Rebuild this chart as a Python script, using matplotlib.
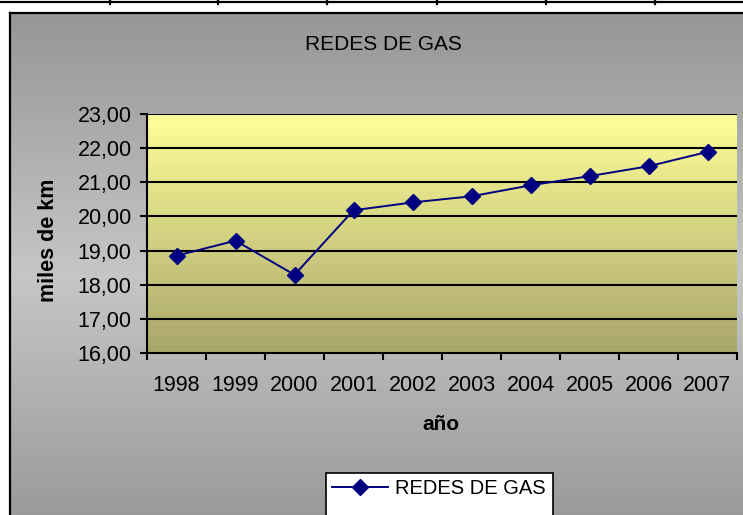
import numpy as np
import matplotlib
matplotlib.use("Agg")
import matplotlib.pyplot as plt
from matplotlib.colors import LinearSegmentedColormap
from matplotlib.patches import Rectangle
from matplotlib.ticker import FixedLocator, NullFormatter, FixedFormatter

plt.rcParams['font.family'] = ['Liberation Sans', 'DejaVu Sans']

# data
years = ['1998', '1999', '2000', '2001', '2002', '2003', '2004', '2005', '2006', '2007']
redes = [18.85, 19.29, 18.29, 20.18, 20.41, 20.59, 20.91, 21.18, 21.47, 21.89]
y_ticks = [16, 17, 18, 19, 20, 21, 22, 23]

W, H = 743, 515
fig = plt.figure(figsize=(W / 100, H / 100), dpi=100)
fig.patch.set_facecolor('white')

# background layer in pixel coordinates
bg = fig.add_axes([0, 0, 1, 1])
bg.set_xlim(0, W)
bg.set_ylim(H, 0)
bg.axis('off')

gray = LinearSegmentedColormap.from_list('g', ['#969696', '#c6c6c6', '#969696'])
grad = np.linspace(0, 1, 256).reshape(-1, 1)
bg.imshow(grad, cmap=gray, extent=[10, W + 5, 540, 13], aspect='auto', zorder=0)
bg.plot([10, 10], [13, H], color='black', lw=1.6, zorder=2)
bg.plot([10, W], [13, 13], color='black', lw=1.6, zorder=2)

# table lines above the chart
bg.plot([0, W], [1.5, 1.5], color='black', lw=1.6)
for xv in [110, 218, 327, 437, 546, 655]:
    bg.plot([xv, xv], [0, 4], color='black', lw=1.6)

bg.text(383, 45, 'REDES DE GAS', ha='center', va='center', fontsize=15)
bg.text(48, 240, 'miles de km', ha='center', va='center', rotation=90,
        fontsize=15.5, fontweight='bold')
bg.text(441, 424, 'año', ha='center', va='center', fontsize=15, fontweight='bold')

# legend box (cut off at the bottom like the original)
bg.add_patch(Rectangle((326, 473), 227, 60, facecolor='white', edgecolor='black',
                       lw=1.2, zorder=3))

# plot area
ax = fig.add_axes([147 / W, 1 - 353 / H, 590 / W, 239 / H])
ax.patch.set_alpha(0)
yel = LinearSegmentedColormap.from_list('y', ['#a9a66b', '#ffff99'])
ax.imshow(grad[::-1], cmap=yel, extent=[-0.5, 9.5, 16, 23], aspect='auto', zorder=0)
x = np.arange(len(years))
ax.set_xlim(-0.5, 9.5)
ax.set_ylim(16, 23)

for yv in y_ticks[1:]:
    ax.axhline(yv, color='black', lw=1.5, zorder=1)

line, = ax.plot(x, redes, color='#000080', lw=1.4, marker='D', ms=8,
                mec='#000080', mfc='#000080', zorder=3, label='REDES DE GAS')

ax.xaxis.set_major_locator(FixedLocator(np.arange(-0.5, 10, 1)))
ax.xaxis.set_major_formatter(NullFormatter())
ax.xaxis.set_minor_locator(FixedLocator(x))
ax.xaxis.set_minor_formatter(FixedFormatter(years))
ax.tick_params(axis='x', which='major', direction='out', length=5, width=1.5)
ax.tick_params(axis='x', which='minor', length=0, labelsize=15.5, pad=15.5)
ax.set_yticks(y_ticks)
ax.set_yticklabels([f'{v:.2f}'.replace('.', ',') for v in y_ticks])
ax.tick_params(axis='y', direction='out', length=5, width=1.5, labelsize=15.5, pad=6)

for s in ['top', 'right']:
    ax.spines[s].set_visible(False)
for s in ['left', 'bottom']:
    ax.spines[s].set_linewidth(1.5)
    ax.spines[s].set_color('black')

leg = fig.legend(handles=[line], loc='upper left',
                 bbox_to_anchor=(326 / W, 1 - 473 / H), frameon=False,
                 fontsize=14.5, handlelength=2.8, handletextpad=0.35,
                 borderaxespad=0, borderpad=0.3)
leg.set_zorder(5)

fig.savefig('out.png', dpi=100)
